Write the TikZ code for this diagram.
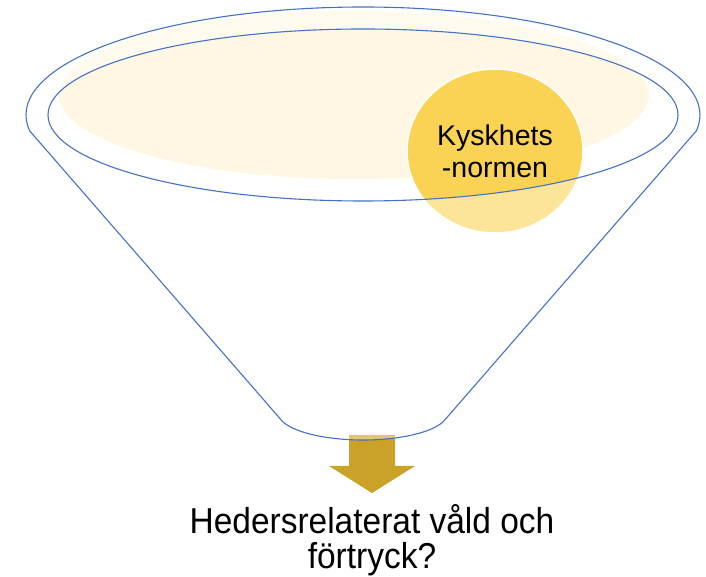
\documentclass[tikz,border=0pt]{standalone}
\usepackage{fontspec}
\setmainfont{Liberation Sans}
\newfontfamily\bottomfont[FakeStretch=0.93]{Liberation Sans}
\usetikzlibrary{shapes.geometric,calc}
\definecolor{funnelblue}{HTML}{4472C4}
\definecolor{cream}{HTML}{FFF7E4}
\definecolor{normgold}{HTML}{FAD354}
\definecolor{arrowgold}{HTML}{C9A227}
\tikzset{
  outline/.style={draw=funnelblue, line width=1.1pt},
  normnode/.style={ellipse, fill=normgold, draw=white, line width=1.5pt,
    minimum width=176pt, minimum height=164pt, inner sep=0pt, align=center,
    font=\fontsize{28.5}{32}\selectfont},
  question/.style={align=center, inner sep=0pt,
    font=\bottomfont\fontsize{36}{35}\selectfont}
}
\begin{document}
\begin{tikzpicture}[x=1pt,y=1pt]
\useasboundingbox (0,0) rectangle (706,577);
\coordinate (oc) at (363,462);
\coordinate (bc) at (363,164.2);
\coordinate (cc) at (354,482);
% cream liquid
\fill[cream] (cc) ellipse [x radius=295, y radius=84];
% norm circle
\node[normnode] (norm) at (495,426) {Kyskhets\\-normen};
% arrow
\fill[arrowgold] (349,142) coordinate (a1) -- (395,142) -- (395,111) -- (415,111)
  -- (372,84) coordinate (tip) -- (329,111) -- (349,111) -- cycle;
% funnel translucent body
\fill[white, fill opacity=0.4, even odd rule]
  ($(oc)+(188.5:337 and 108)$) arc[start angle=188.5, end angle=-8.5, x radius=337, y radius=108]
  -- ($(bc)+(-19.8:85 and 27.2)$) arc[start angle=-19.8, end angle=-160.2, x radius=85, y radius=27.2]
  -- cycle
  (oc) ellipse [x radius=315, y radius=86];
% funnel outline
\draw[outline, line join=round]
  ($(oc)+(188.5:337 and 108)$) arc[start angle=188.5, end angle=-8.5, x radius=337, y radius=108]
  -- ($(bc)+(-19.8:85 and 27.2)$) arc[start angle=-19.8, end angle=-160.2, x radius=85, y radius=27.2]
  -- cycle;
\draw[outline] (oc) ellipse [x radius=315, y radius=86];
% question
\node[question, anchor=base] (q) at (372,8) {Hedersrelaterat våld och\\förtryck?};
\end{tikzpicture}
\end{document}
